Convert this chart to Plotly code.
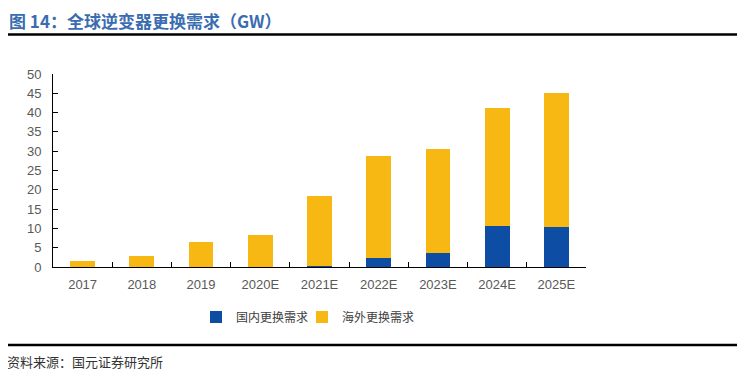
import plotly.graph_objects as go

categories = ["2017", "2018", "2019", "2020E", "2021E", "2022E", "2023E", "2024E", "2025E"]
domestic = [0, 0, 0, 0, 0.3, 2.3, 3.5, 10.7, 10.4]
overseas = [1.6, 2.9, 6.5, 8.4, 18.1, 26.5, 27.1, 30.6, 34.8]
y_ticks = [0, 5, 10, 15, 20, 25, 30, 35, 40, 45, 50]

BLUE = "#0E4DA4"
YELLOW = "#F8B814"

OFF = 8  # page body margin
FW, FH = 745 - OFF, 370 - OFF
L, R, T, B = 53 - OFF, 586 - OFF, 74 - OFF, 267 - OFF
W = R - L
H = B - T

def px(x):
    return (x - OFF - L) / W

def py(y):
    return (B - (y - OFF)) / H

fig = go.Figure()
fig.add_bar(x=categories, y=domestic, name="国内更换需求", marker_color=BLUE,
            marker_line_width=0, legend="legend")
fig.add_bar(x=categories, y=overseas, name="海外更换需求", marker_color=YELLOW,
            marker_line_width=0, legend="legend2")

legend_font = dict(family="Noto Sans CJK SC", size=12, color="#404040")

fig.update_layout(
    barmode="stack",
    bargap=0.58,
    width=FW, height=FH,
    margin=dict(l=L, r=FW - R, t=T, b=FH - B, autoexpand=False),
    paper_bgcolor="white", plot_bgcolor="white",
    font=dict(family="Liberation Sans, Arial, sans-serif", size=13, color="#595959"),
    showlegend=True,
    legend=dict(orientation="h", x=px(196), xanchor="left", y=py(317), yanchor="middle",
                font=legend_font, itemwidth=30, itemclick=False, bgcolor="rgba(0,0,0,0)"),
    legend2=dict(orientation="h", x=px(302), xanchor="left", y=py(317), yanchor="middle",
                 font=legend_font, itemwidth=30, itemclick=False, bgcolor="rgba(0,0,0,0)"),
    xaxis=dict(showline=True, linecolor="black", linewidth=1, ticks="inside", ticklen=5,
               tickcolor="black", tickson="boundaries", showgrid=False, ticklabelstandoff=5,
               tickfont=dict(size=13, color="#595959"), fixedrange=True),
    yaxis=dict(range=[0, 50], tickvals=y_ticks, showline=True, linecolor="black", linewidth=1,
               ticks="inside", ticklen=5, tickcolor="black", showgrid=False, zeroline=False,
               ticklabelstandoff=8,
               tickfont=dict(size=13, color="#595959"), fixedrange=True),
    shapes=[
        dict(type="line", xref="paper", yref="paper", x0=px(4), x1=px(745), y0=py(34.5), y1=py(34.5),
             line=dict(color="black", width=2.5)),
        dict(type="line", xref="paper", yref="paper", x0=px(4), x1=px(745), y0=py(345), y1=py(345),
             line=dict(color="black", width=2.5)),
    ],
    annotations=[
        dict(text="<b>图 14：全球逆变器更换需求（GW）</b>", xref="paper", yref="paper",
             x=px(7), y=py(21), xanchor="left", yanchor="middle", showarrow=False,
             font=dict(family="Noto Sans CJK SC", size=17, color="#3A6DB0")),
        dict(text="资料来源：国元证券研究所", xref="paper", yref="paper",
             x=px(5), y=py(361), xanchor="left", yanchor="middle", showarrow=False,
             font=dict(family="Noto Sans CJK SC", size=13, color="#333333")),
    ],
)

fig.write_html("out.html")
